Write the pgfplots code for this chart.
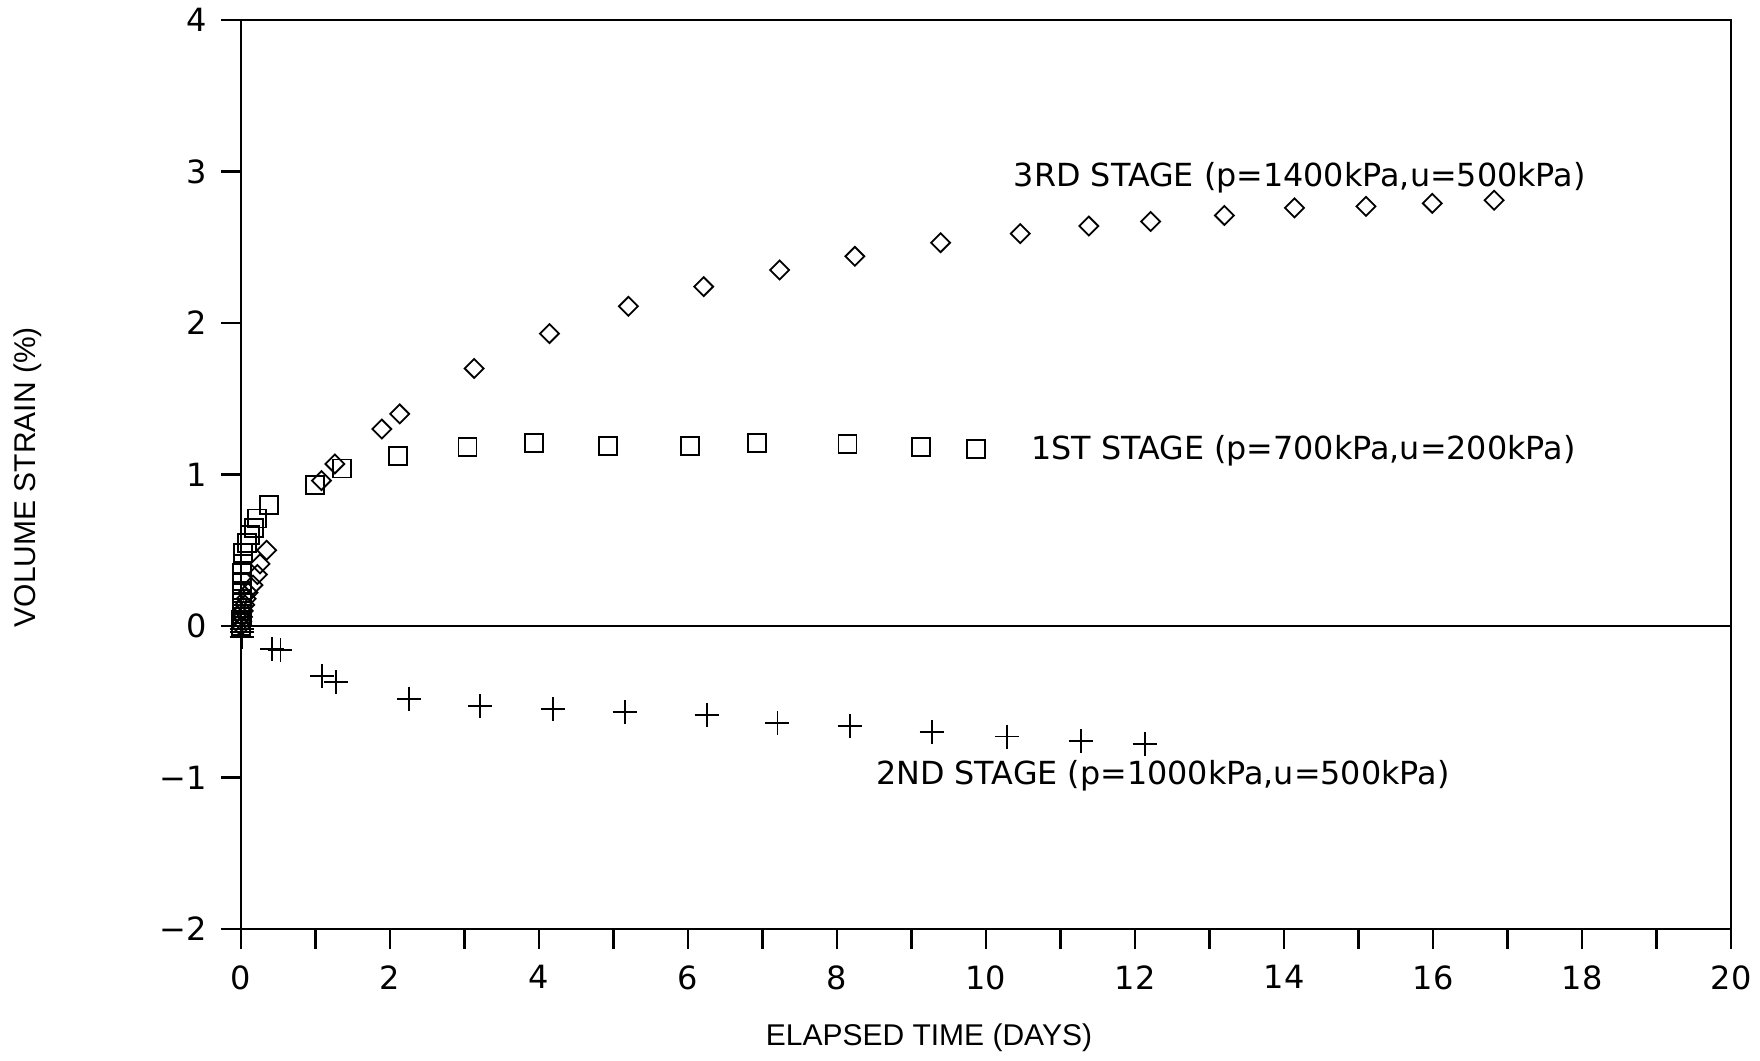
\documentclass[border=0pt]{standalone}
\usepackage{pgfplots}
\pgfplotsset{compat=1.18}
\usepackage{fontspec}
\setmainfont{Liberation Sans}
\newfontfamily\plotfont{DejaVu Sans}

% volume strain (%) against elapsed time (days), one table per loading stage
\pgfplotstableread{
t eps
0.00 0.00
0.00 0.02
0.00 0.04
0.01 0.06
0.01 0.08
0.01 0.10
0.01 0.12
0.01 0.15
0.01 0.18
0.01 0.22
0.01 0.28
0.01 0.35
0.02 0.41
0.03 0.48
0.08 0.55
0.12 0.60
0.17 0.645
0.22 0.71
0.38 0.80
0.99 0.93
1.36 1.04
2.11 1.12
3.04 1.18
3.93 1.21
4.93 1.19
6.03 1.19
6.93 1.21
8.14 1.20
9.13 1.18
9.87 1.17
}\stageone

\pgfplotstableread{
t eps
0.00 0.00
0.01 -0.02
0.02 -0.04
0.01 -0.07
0.42 -0.15
0.53 -0.16
1.09 -0.33
1.28 -0.37
2.26 -0.48
3.21 -0.53
4.19 -0.55
5.15 -0.57
6.25 -0.59
7.20 -0.64
8.17 -0.66
9.27 -0.70
10.28 -0.73
11.27 -0.76
12.13 -0.78
}\stagetwo

\pgfplotstableread{
t eps
0.00 0.00
0.01 0.03
0.02 0.06
0.03 0.10
0.05 0.14
0.07 0.18
0.095 0.22
0.16 0.27
0.22 0.34
0.255 0.41
0.345 0.50
1.08 0.96
1.26 1.07
1.89 1.30
2.13 1.40
3.13 1.70
4.14 1.93
5.20 2.11
6.21 2.24
7.23 2.35
8.24 2.44
9.39 2.53
10.46 2.59
11.38 2.64
12.21 2.67
13.20 2.71
14.14 2.76
15.10 2.77
15.99 2.79
16.82 2.81
}\stagethree

\begin{document}
\fontsize{15}{18}\selectfont
\begin{tikzpicture}
\useasboundingbox (-120.5pt,-65.5pt) rectangle (759.5pt,464.5pt);
\begin{axis}[
  scale only axis,
  width=745pt, height=454.5pt,
  xmin=0, xmax=20, ymin=-2, ymax=4,
  axis line style={line width=1.2pt},
  clip=false,
  tick pos=left,
  tick align=outside,
  major tick length=10pt,
  minor tick length=10pt,
  tick style={line width=1.1pt, black},
  xtick={0,2,...,20},
  xticklabels={0,2,4,6,8,10,12,14,16,18,20},
  minor xtick={1,3,...,19},
  ytick={-2,-1,...,4},
  yticklabels={−2,−1,0,1,2,3,4},
  xticklabel style={font=\plotfont\fontsize{16}{19}\selectfont, yshift=-3pt},
  yticklabel style={font=\plotfont\fontsize{16}{19}\selectfont, xshift=-2pt},
]
% reference line at zero strain
\draw[line width=1pt] (axis cs:0,0) -- (axis cs:20,0);

\addplot[only marks, mark=square, mark size=4.5pt, line width=0.9pt]
  table[x=t, y=eps] {\stageone};
\addplot[only marks, mark=+, mark size=6pt, line width=0.9pt]
  table[x=t, y=eps] {\stagetwo};
\addplot[only marks, mark=square, mark size=3.35pt, line width=0.9pt,
  mark options={rotate=45}]
  table[x=t, y=eps] {\stagethree};

\begin{scope}[every node/.style={anchor=west, inner sep=0pt,
    font=\plotfont\fontsize{15.9}{18}\selectfont}]
\node at (axis cs:10.37,2.96) {3RD STAGE (p=1400kPa,u=500kPa)};
\node at (axis cs:10.60,1.156) {1ST STAGE (p=700kPa,u=200kPa)};
\node at (axis cs:8.52,-0.99) {2ND STAGE (p=1000kPa,u=500kPa)};
\end{scope}

\node[anchor=center] at ([yshift=-54.5pt]rel axis cs:0.4617,0) {ELAPSED TIME (DAYS)};
\node[anchor=center, rotate=90] at ([xshift=-106.5pt]rel axis cs:0,0.497) {VOLUME STRAIN (\%)};
\end{axis}
\end{tikzpicture}
\end{document}
